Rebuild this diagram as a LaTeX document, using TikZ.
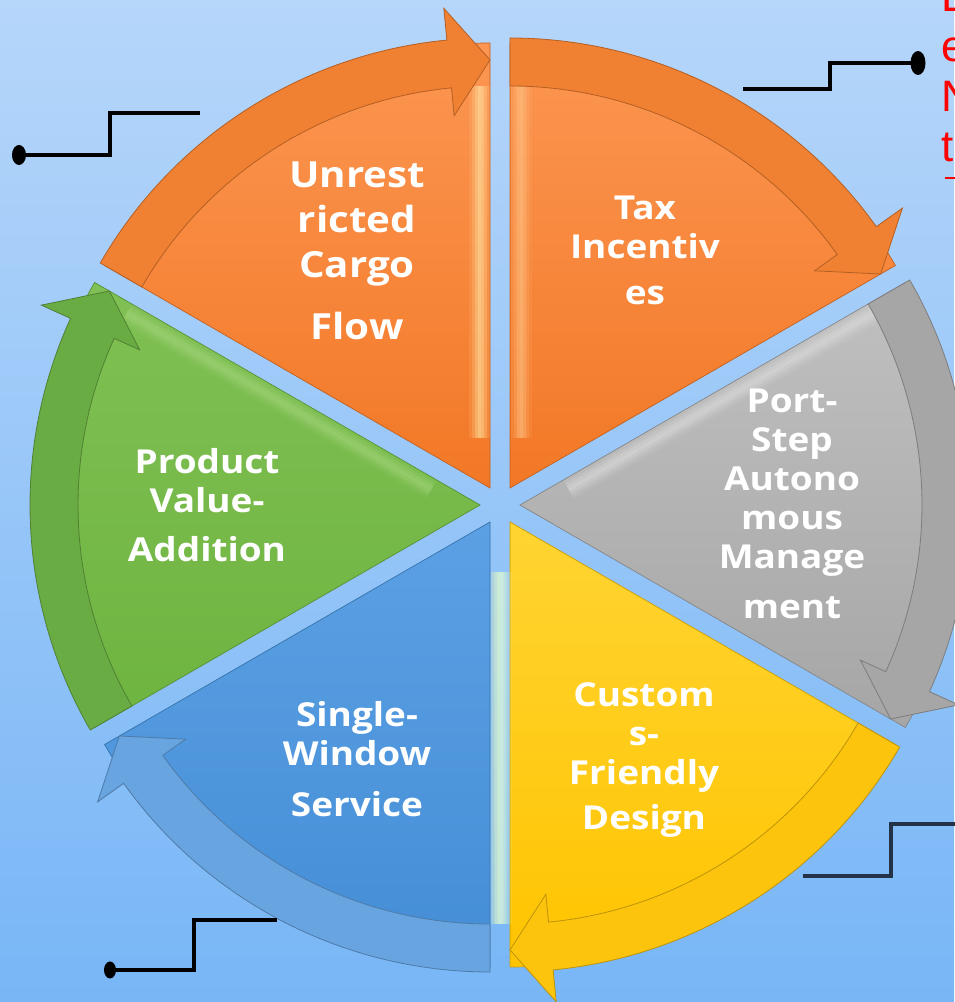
\documentclass[tikz,border=0pt]{standalone}
\usepackage{fontspec}
\usetikzlibrary{calc,shapes.geometric}
\newfontfamily\segfont[FakeStretch=1.12]{Open Sans}
\newfontfamily\redfont{Liberation Sans}

\definecolor{bgtop}{RGB}{182,214,250}
\definecolor{bgbot}{RGB}{120,182,246}
\definecolor{orBand}{RGB}{240,128,50}
\definecolor{orTop}{RGB}{252,150,82}
\definecolor{orBot}{RGB}{242,120,38}
\definecolor{orHi}{RGB}{255,238,175}
\definecolor{orHiSoft}{RGB}{255,200,140}
\definecolor{grBand}{RGB}{166,166,166}
\definecolor{grTop}{RGB}{192,192,192}
\definecolor{grBot}{RGB}{166,166,166}
\definecolor{grHi}{RGB}{222,222,222}
\definecolor{yeBand}{RGB}{252,196,12}
\definecolor{yeTop}{RGB}{255,212,50}
\definecolor{yeBot}{RGB}{255,196,0}
\definecolor{yeHi}{RGB}{255,248,120}
\definecolor{blBand}{RGB}{104,164,224}
\definecolor{blTop}{RGB}{92,160,228}
\definecolor{blBot}{RGB}{68,142,214}
\definecolor{blHi}{RGB}{200,244,255}
\definecolor{gnBand}{RGB}{106,172,68}
\definecolor{gnTop}{RGB}{128,192,84}
\definecolor{gnBot}{RGB}{110,180,64}
\definecolor{gnHi}{RGB}{165,214,125}
\definecolor{connDark}{RGB}{35,50,70}

\tikzset{
  seglabel/.style={text=white, align=center, inner sep=0pt,
    font=\segfont\bfseries\fontsize{33}{39}\selectfont},
  biglabel/.style={seglabel, font=\segfont\bfseries\fontsize{36}{45}\selectfont},
  conn/.style={line width=3.5pt, draw=black},
  pin/.style={ellipse, fill=black, inner sep=0pt, minimum width=14pt, minimum height=20pt}
}

% one pie segment with its circular arrow band
% #1,#2 centre  #3 bisector  #4 band  #5/#6 wedge top/bottom  #7 highlight
% #8 highlighted edge angle  #9 inward direction of the highlight
\newcommand\segment[9]{%
  \pgfmathsetmacro\sgA{#3+30}%
  \pgfmathsetmacro\sgB{#3-30}%
  \pgfmathsetmacro\sgC{#3-24.5}%
  \coordinate (o) at (#1,#2);
  \shadedraw[top color=#5, bottom color=#6, draw=#6!80!black, line width=.7pt]
    (o) -- ($(o)+(\sgA:445)$) arc[start angle=\sgA, end angle=\sgB, radius=445] -- cycle;
  % soft bevel highlight along one straight edge
  \foreach \d/\op in {2/.12,5/.3,8/.5,11/.6,14/.45,17/.25,20/.1}{
    \draw[#7, line width=3pt, opacity=\op]
      ($(o)+(#8:50)+(#9:\d)$) -- ($(o)+(#8:402)+(#9:\d)$);
  }
  \filldraw[fill=#4, draw=#4!75!black, line width=.8pt]
    ($(o)+(\sgA:450)$) arc[start angle=\sgA, end angle=\sgC, radius=450]
    -- ($(o)+(\sgC:482)$) -- ($(o)+(\sgB:428)$) -- ($(o)+(\sgC:374)$)
    -- ($(o)+(\sgC:402)$) arc[start angle=\sgC, end angle=\sgA, radius=402] -- cycle;
}

\begin{document}
\begin{tikzpicture}[x=1pt,y=1pt]
\useasboundingbox (0,0) rectangle (954,1002);
\shade[top color=bgtop, bottom color=bgbot] (0,0) rectangle (954,1002);

% six segments, clockwise from the top
\segment{490}{514}{120}{orBand}{orTop}{orBot}{orHi}{90}{180}
\segment{510}{514}{60}{orBand}{orTop}{orBot}{orHiSoft}{90}{0}
\segment{520}{497}{0}{grBand}{grTop}{grBot}{grHi}{30}{-60}
\segment{510}{480}{-60}{yeBand}{yeTop}{yeBot}{yeHi}{-90}{180}
\segment{490}{480}{-120}{blBand}{blTop}{blBot}{blHi}{-90}{0}
\segment{480}{497}{180}{gnBand}{gnTop}{gnBot}{gnHi}{150}{240}

% labels
\node[biglabel] (cargo) at (357,751) {Unrest\\ricted\\Cargo\\[17pt]Flow};
\node[seglabel] (tax) at (645,752) {Tax\\Incentiv\\[7pt]es};
\node[seglabel] (port) at (792,498) {Port-\\Step\\Autono\\mous\\Manage\\[11pt]ment};
\node[seglabel] (customs) at (644,242) {Custom\\s-\\Friendly\\[6pt]Design};
\node[seglabel] (single) at (357,243) {Single-\\Window\\[12pt]Service};
\node[seglabel] (product) at (207,497) {Product\\Value-\\[10pt]Addition};

% callout leaders
\node[pin] (d1) at (19,847) {};
\coordinate (e1) at (200,889);
\draw[conn] (d1.center) -- (110,847) |- (e1);

\node[pin, minimum width=15pt, minimum height=24pt] (d2) at (918,939) {};
\coordinate (e2) at (743,913);
\draw[conn] (d2.center) -- (830,939) |- (e2);

\coordinate (e3) at (803,126);
\coordinate (f3) at (960,178);
\draw[conn, draw=connDark] (e3) -- (891,126) |- (f3);

\node[pin, minimum width=12pt, minimum height=17pt] (d4) at (110,32) {};
\coordinate (e4) at (277,82);
\draw[conn] (d4.center) -- (194,32) |- (e4);

% note text running off the right edge
\node[anchor=north west, inner sep=0pt, text=red, align=left,
      font=\redfont\fontsize{44}{50}\selectfont] (note) at (941.5,1021) {L\\e\\N\\t};
\coordinate (u1) at (945,824);
\draw[red, line width=2.5pt] (u1) -- ++(20,0);
\end{tikzpicture}
\end{document}
